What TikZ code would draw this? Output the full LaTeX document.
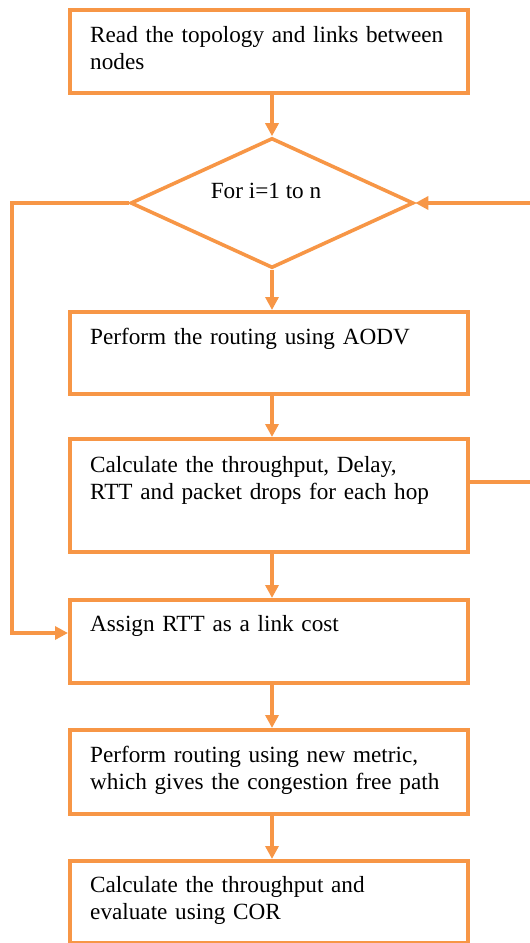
\documentclass[tikz,border=0pt]{standalone}
\usepackage{fontspec}
\setmainfont{Liberation Serif}
\usetikzlibrary{shapes.geometric,arrows.meta,calc}
\definecolor{org}{HTML}{F79646}
\begin{document}
\begin{tikzpicture}[x=1pt,y=-1pt,
  box/.style={draw=org,line width=3.6pt,minimum width=398pt,inner sep=0pt,anchor=north west},
  txt/.style={anchor=base west,inner sep=0pt,text width=390pt,align=left,font=\fontsize{23.2}{27}\selectfont},
  arr/.style={draw=org,line width=3.6pt,-{Triangle[length=13pt,width=13pt]}},
  ln/.style={draw=org,line width=3.6pt}]
\useasboundingbox (0,0) rectangle (530,943);
\node[box,minimum height=83pt] (b1) at (68,8) {};
\node[draw=org,line width=3.6pt,diamond,minimum width=283pt,minimum height=130pt,inner sep=0pt] (d) at (272,203) {};
\node[box,minimum height=82pt] (b2) at (68,310) {};
\node[box,minimum height=113pt] (b3) at (68,437) {};
\node[box,minimum height=83pt] (b4) at (68,598) {};
\node[box,minimum height=84pt] (b5) at (68,728) {};
\node[box,minimum height=82pt] (b6) at (68,859) {};

\node[txt] (t1) at ($(b1.north west)+(22,34)$) {Read the topology and links between\\nodes};
\node[anchor=base,inner sep=0pt,font=\fontsize{23.2}{27}\selectfont] (td) at (266,198) {For i=1 to n};
\node[txt] (t2) at ($(b2.north west)+(22,34)$) {Perform the routing using AODV};
\node[txt] (t3) at ($(b3.north west)+(22,35)$) {Calculate the throughput, Delay,\\RTT and packet drops for each hop};
\node[txt] (t4) at ($(b4.north west)+(22,33)$) {Assign RTT as a link cost};
\node[txt] (t5) at ($(b5.north west)+(22,34)$) {Perform routing using new metric,\\which gives the congestion free path};
\node[txt] (t6) at ($(b6.north west)+(22,33)$) {Calculate the throughput and\\evaluate using COR};

\draw[arr] (b1.south -| d) -- (d.north);
\draw[arr] (d.south) -- (b2.north -| d);
\draw[arr] (b2.south -| d) -- (b3.north -| d);
\draw[arr] (b3.south -| d) -- (b4.north -| d);
\draw[arr] (b4.south -| d) -- (b5.north -| d);
\draw[arr] (b5.south -| d) -- (b6.north -| d);

\coordinate (lp) at (12,633);
\draw[arr] (d.west) -| (lp) -- (lp -| b4.west);
\coordinate (rp) at (545,482);
\draw[arr] (b3.east |- rp) -- (rp) |- (d.east);
\end{tikzpicture}
\end{document}
